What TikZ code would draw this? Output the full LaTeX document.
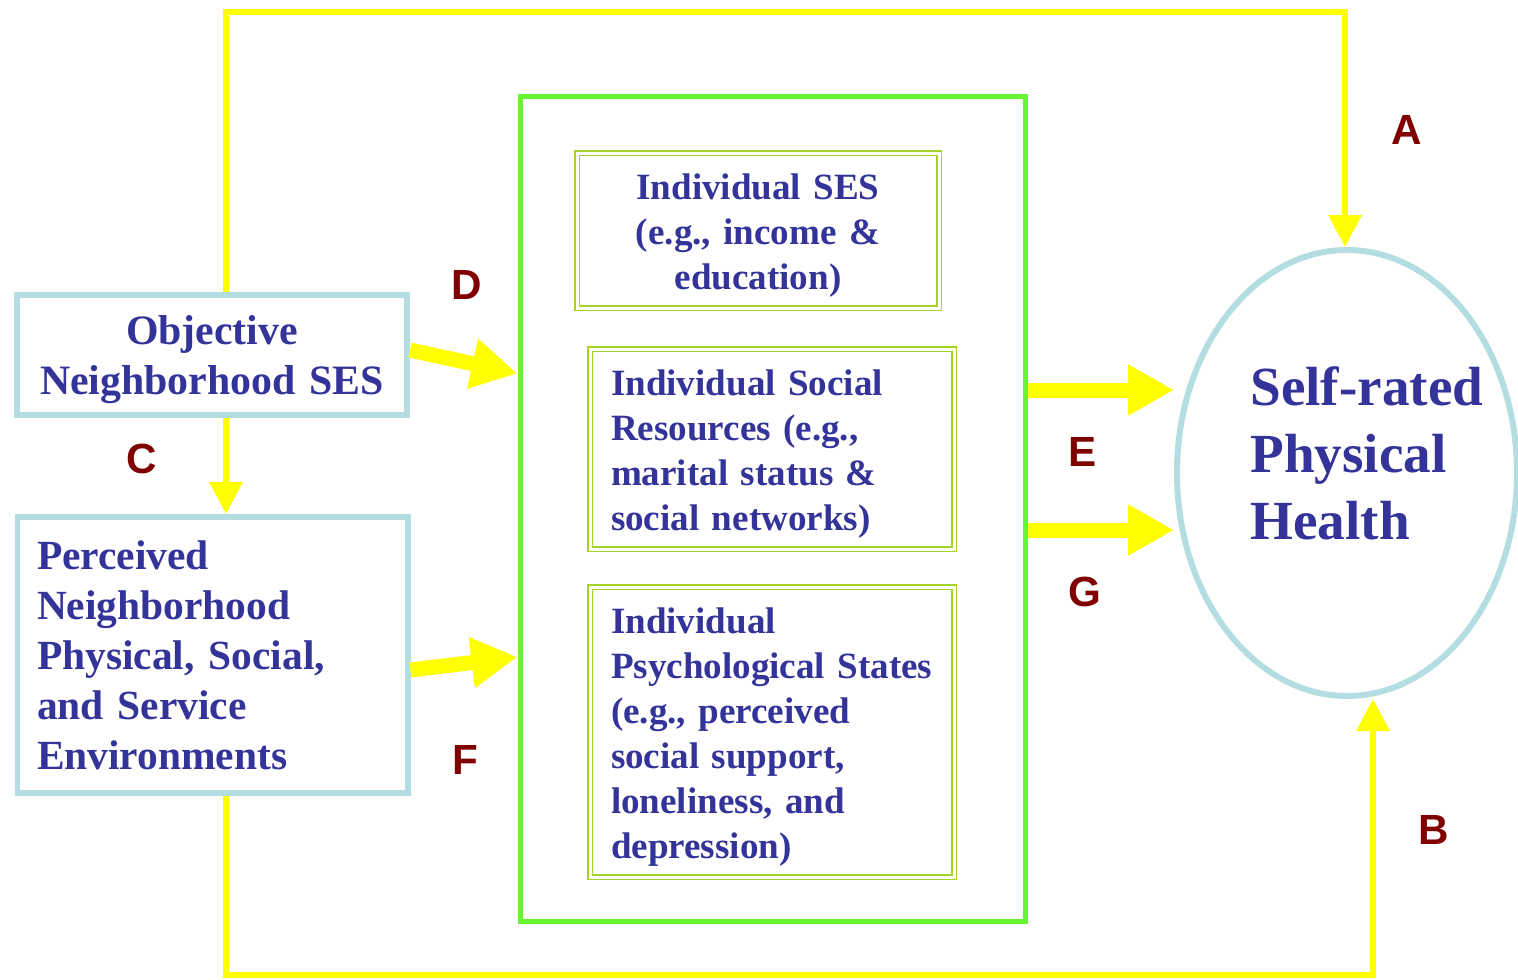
\documentclass[tikz,border=0pt]{standalone}
\usepackage{fontspec}
\setmainfont{Liberation Serif}
\newfontfamily\lettfont{Liberation Sans}
\definecolor{txtblue}{RGB}{51,51,153}
\definecolor{lettred}{RGB}{128,0,0}
\definecolor{nbblue}{RGB}{180,221,226}
\definecolor{grpgreen}{RGB}{102,245,51}
\definecolor{indgreen}{RGB}{165,210,40}
\definecolor{arryellow}{RGB}{255,255,0}
\usetikzlibrary{arrows.meta,positioning,shapes.geometric,calc}
\newcommand{\nbfont}{\fontsize{23.8}{28.5}\selectfont\bfseries}
\newcommand{\percfont}{\fontsize{23.6}{28.5}\selectfont\bfseries}
\newcommand{\indfont}{\fontsize{21.1}{25.6}\selectfont\bfseries}
\newcommand{\healthfont}{\fontsize{31.4}{38.1}\selectfont\bfseries}
\tikzset{
  lowered/.style={execute at begin node={\rule{0pt}{#1}}},
  nbbox/.style={rectangle,draw=nbblue,line width=0.12cm,text=txtblue,
                font=\nbfont,align=center},
  grpbox/.style={rectangle,draw=grpgreen,line width=0.1cm},
  ibox/.style={rectangle,draw=indgreen,double=white,double distance=0.06cm,
               line width=0.03cm,text=txtblue,font=\indfont,align=left,
               lowered=20pt},
  ln/.style={-{Triangle[length=0.64cm,width=0.64cm]},line width=0.13cm,arryellow},
  fat/.style={-{Triangle[length=0.92cm,width=0.96cm]},line width=0.3cm,arryellow},
  lett/.style={font=\lettfont\fontsize{24}{28}\selectfont\bfseries,text=lettred},
}
\begin{document}
\begin{tikzpicture}
  \useasboundingbox (0,0) rectangle (30.36,-19.6);
  % neighbourhood level
  \node[nbbox,lowered=22.7pt,text width=7.2cm,inner xsep=0.3cm,
        minimum height=2.4cm] (objses)
        at (4.24,-7.09) {Objective\\Neighborhood SES};
  \node[nbbox,font=\percfont,align=left,text width=7.02cm,inner xsep=0.39cm,
        minimum height=5.52cm] (perc) at (4.25,-13.1)
        {Perceived\\Neighborhood\\Physical, Social,\\and Service\\Environments};
  % individual level
  \node[grpbox,minimum width=10.1cm,minimum height=16.5cm] (grp)
        at (15.45,-10.17) {};
  \node[ibox,align=center,text width=6.64cm,inner xsep=0.3cm,
        minimum height=3.1cm] (ses)
        at (15.16,-4.61) {Individual SES\\(e.g., income \&\\education)};
  \node[ibox,text width=6.44cm,inner xsep=0.42cm,minimum height=4.0cm] (soc)
        at (15.44,-8.98)
        {Individual Social\\Resources (e.g.,\\marital status \&\\social networks)};
  \node[ibox,text width=6.44cm,inner xsep=0.42cm,minimum height=5.8cm] (psy)
        at (15.44,-14.64)
        {Individual\\Psychological States\\(e.g., perceived\\social support,\\loneliness, and\\depression)};
  % outcome
  \node[ellipse,draw=nbblue,line width=0.12cm,minimum width=6.8cm,
        minimum height=8.92cm,inner sep=0pt] (health) at (26.94,-9.46) {};
  \node[anchor=west,align=left,text=txtblue,font=\healthfont,inner sep=0pt]
        (htext) at (25.0,-9.06) {Self-rated\\Physical\\Health};
  % paths
  \coordinate (tl) at (4.52,-0.24);
  \coordinate (tr) at (26.9,-0.24);
  \coordinate (bl) at (4.52,-19.5);
  \coordinate (br) at (27.46,-19.5);
  \draw[ln] (objses.north -| tl) -- (tl) -- (tr) -- (tr |- health.north);
  \draw[ln] (objses.south -| tl) -- (perc.north -| tl);
  \draw[ln] (perc.south -| bl) -- (bl) -- (br) -- (br |- health.south);
  \draw[fat] ($(objses.east)+(0,0.09)$) -- ($(grp.west)+(0,2.7)$);
  \draw[fat] ($(perc.east)+(0,-0.3)$) -- ($(grp.west)+(0,-2.97)$);
  \coordinate (e1) at ($(health.west)+(0,1.66)$);
  \coordinate (g1) at ($(health.west)+(0,-1.14)$);
  \draw[fat] (grp.east |- e1) -- (e1);
  \draw[fat] (grp.east |- g1) -- (g1);
  % path labels
  \node[lett] (la) at (28.14,-2.6) {A};
  \node[lett] (lb) at (28.68,-16.6) {B};
  \node[lett] (lc) at (2.84,-9.18) {C};
  \node[lett] (ld) at (9.34,-5.7) {D};
  \node[lett] (le) at (21.66,-9.04) {E};
  \node[lett] (lf) at (9.3,-15.2) {F};
  \node[lett] (lg) at (21.7,-11.84) {G};
\end{tikzpicture}
\end{document}
